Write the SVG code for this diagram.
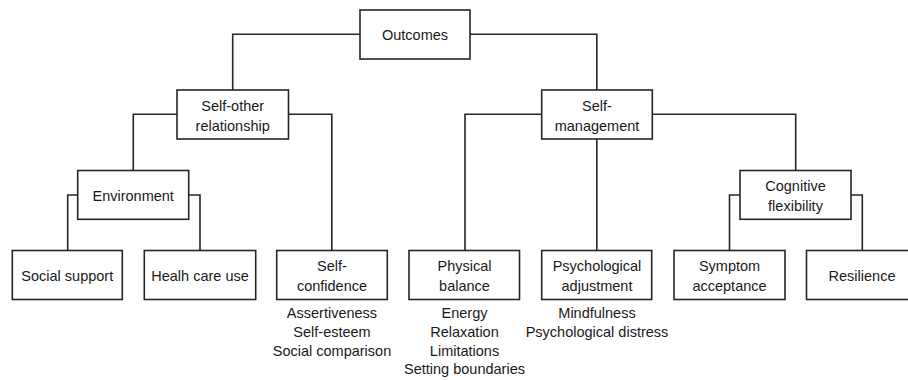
<svg xmlns="http://www.w3.org/2000/svg" width="908" height="380" viewBox="0 0 908 380">
<style>
.box{fill:#fff;stroke:#262626;stroke-width:1.6}
.con{fill:none;stroke:#262626;stroke-width:1.6}
text{font-family:"Liberation Sans",Arial,sans-serif;font-size:14.5px;fill:#1a1a1a;text-anchor:middle}
</style>
<rect width="908" height="380" fill="#fff"/>
<g id="connectors">
<path class="con" d="M360,34.3H232.7V90"/>
<path class="con" d="M470,34.3H596.8V90"/>
<path class="con" d="M177,114.3H133.3V170.5"/>
<path class="con" d="M288.5,114.3H331.8V250.5"/>
<path class="con" d="M77.7,195H67.7V250.5"/>
<path class="con" d="M188.7,195H200V250.5"/>
<path class="con" d="M541.7,114.3H465V250.5"/>
<path class="con" d="M596.8,139V250.5"/>
<path class="con" d="M652.3,114.3H795.7V170.5"/>
<path class="con" d="M740,195H729.5V250.5"/>
<path class="con" d="M851,195H862.3V250.5"/>
</g>
<g id="outcomes"><rect class="box" x="360" y="10" width="110" height="49"/><text x="415" y="40">Outcomes</text></g>
<g id="self-other"><rect class="box" x="177" y="90" width="111.5" height="49"/><text x="232.7" y="110.5">Self-other</text><text x="232.7" y="130.5">relationship</text></g>
<g id="self-management"><rect class="box" x="541.7" y="90" width="110.6" height="49"/><text x="597" y="110.5">Self-</text><text x="597" y="130.5">management</text></g>
<g id="environment"><rect class="box" x="77.7" y="170.5" width="111" height="48.8"/><text x="133.2" y="200.5">Environment</text></g>
<g id="cognitive"><rect class="box" x="740" y="170.5" width="111" height="48.8"/><text x="795.5" y="190.5">Cognitive</text><text x="795.5" y="210.5">flexibility</text></g>
<g id="social-support"><rect class="box" x="12.3" y="250.5" width="110" height="49"/><text x="67.3" y="281">Social support</text></g>
<g id="health-care"><rect class="box" x="144.3" y="250.5" width="111.4" height="49"/><text x="200" y="281">Healh care use</text></g>
<g id="self-confidence"><rect class="box" x="276.7" y="250.5" width="110.6" height="49"/><text x="332" y="270.5">Self-</text><text x="332" y="290.5">confidence</text>
<text x="332" y="318">Assertiveness</text><text x="332" y="337">Self-esteem</text><text x="332" y="356">Social comparison</text></g>
<g id="physical-balance"><rect class="box" x="409" y="250.5" width="110.5" height="49"/><text x="464.5" y="270.5">Physical</text><text x="464.5" y="290.5">balance</text>
<text x="464.5" y="318">Energy</text><text x="464.5" y="336.5">Relaxation</text><text x="464.5" y="355.5">Limitations</text><text x="464.5" y="374">Setting boundaries</text></g>
<g id="psychological"><rect class="box" x="541.7" y="250.5" width="110" height="49"/><text x="597" y="270.5">Psychological</text><text x="597" y="290.5">adjustment</text>
<text x="597" y="318">Mindfulness</text><text x="597" y="336.5">Psychological distress</text></g>
<g id="symptom"><rect class="box" x="674" y="250.5" width="111" height="49"/><text x="729.5" y="270.5">Symptom</text><text x="729.5" y="290.5">acceptance</text></g>
<g id="resilience"><rect class="box" x="806.5" y="250.5" width="111" height="49"/><text x="862" y="281">Resilience</text></g>
</svg>
